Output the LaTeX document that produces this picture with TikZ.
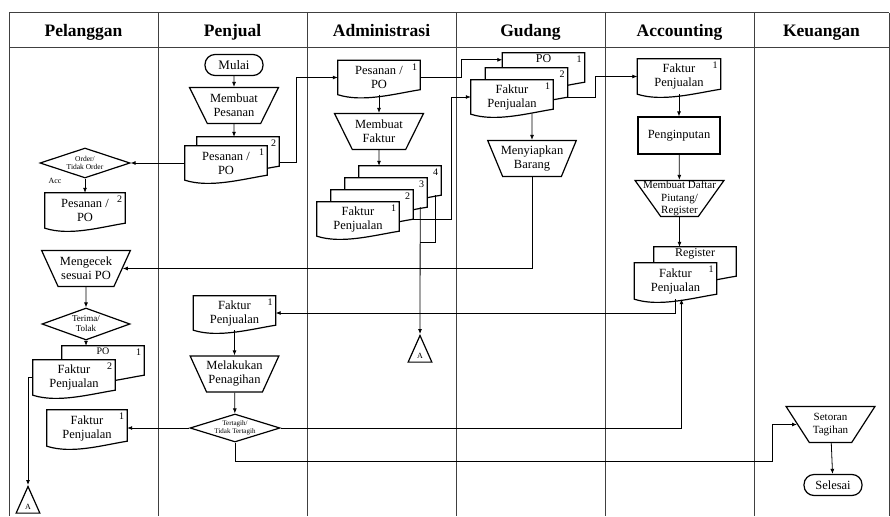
\documentclass[tikz,border=0pt]{standalone}
\usepackage{fontspec}
\setmainfont{Liberation Serif}
\usetikzlibrary{shapes.geometric,arrows.meta,backgrounds}

\begin{document}
\begin{tikzpicture}[x=1pt,y=-1pt,
    font=\fontsize{12.5}{14}\selectfont,
    lanehead/.style={anchor=base, font=\fontsize{17.5}{19}\selectfont\bfseries},
    lanerule/.style={line width=1pt, black!75},
    doc/.style={minimum width=82pt, minimum height=34pt, inner sep=1pt, align=center},
    docline/.style={fill=white, draw, line width=1.2pt},
    num/.style={anchor=north east, inner sep=3pt, font=\fontsize{10}{10}\selectfont},
    toptext/.style={anchor=north, inner sep=1.5pt, font=\fontsize{12}{12}\selectfont},
    proc/.style={trapezium, shape border rotate=180, trapezium left angle=65, trapezium right angle=65,
      trapezium stretches=true, minimum width=89pt, minimum height=36pt, inner xsep=-8pt, inner ysep=0pt,
      align=center, draw, line width=1.2pt},
    term/.style={draw, line width=1.2pt, rounded corners=10pt, minimum width=58pt, minimum height=21pt},
    decide/.style={diamond, aspect=3, draw, line width=1.2pt, minimum width=90pt, minimum height=30pt,
      inner sep=0pt, align=center},
    offpage/.style={isosceles triangle, shape border rotate=90, isosceles triangle apex angle=48,
      draw, line width=1.2pt, inner sep=3.5pt, font=\fontsize{8}{8}\selectfont},
    wire/.style={line width=0.8pt},
    arr/.style={wire, -{Latex[length=5pt,width=4pt]}}
    ]
    \useasboundingbox (0,0) rectangle (890,516);

    % lanes
    \draw[lanerule] (9,13) -- (889,13) (9,48) -- (889,48);
    \foreach \x in {9,158,307,456,605,754,889}
      \draw[lanerule] (\x,13) -- (\x,516);
    \foreach \nm/\cx in {Pelanggan/83.5,Penjual/232.5,Administrasi/381.5,Gudang/530.5,Accounting/679.5,Keuangan/821.5}
      \node[lanehead] (h\nm) at (\cx,37) {\nm};

    % Penjual
    \node[term, font=\fontsize{13}{14}\selectfont] (mulai) at (234,65) {Mulai};
    \node[proc] (pesan) at (234,105.5) {Membuat\\Pesanan};
    \node[doc, label={[num]north east:2}] (pesPOb) at (238,154) {};
    \node[doc, label={[num]north east:1}] (pesPO) at (226,163) {Pesanan /\\PO};
    \node[doc, label={[num]north east:1}] (pjFak) at (234.5,313) {Faktur\\Penjualan};
    \node[proc] (tagihan) at (234.5,374) {Melakukan\\Penagihan};
    \node[decide, minimum height=28pt, font=\fontsize{7}{7.5}\selectfont] (tertagih) at (235,428) {Tertagih/\\Tidak Tertagih};

    % Pelanggan
    \node[decide, font=\fontsize{7.5}{8}\selectfont] (order) at (85,163) {Order/\\Tidak Order};
    \node[font=\fontsize{8}{8}\selectfont] (acc) at (55,181) {Acc};
    \node[doc, minimum width=80pt, minimum height=35pt, label={[num]north east:2}] (pelPO) at (85,210.5) {Pesanan /\\PO};
    \node[proc] (cek) at (86,268.5) {Mengecek\\sesuai PO};
    \node[decide, minimum width=88pt, minimum height=32pt, font=\fontsize{9}{10}\selectfont] (terima) at (86,324) {Terima/\\Tolak};
    \node[doc, label={[toptext, font=\fontsize{10}{10}\selectfont]north:PO}, label={[num]north east:1}] (pelPOb) at (103,363) {};
    \node[doc, minimum height=35pt, label={[num]north east:2}] (pelFak) at (74,377.5) {Faktur\\Penjualan};
    \node[doc, minimum width=80pt, minimum height=36pt, label={[num]north east:1}] (pelFak1) at (87,428) {Faktur\\Penjualan};
    \node[offpage, anchor=apex] (pelA) at (28,485) {A};

    % Administrasi
    \node[doc, label={[num]north east:1}] (admPO) at (379,77.5) {Pesanan /\\PO};
    \node[proc] (faktur) at (379,131.5) {Membuat\\Faktur};
    \foreach \k/\dx in {4/0,3/1,2/2}
      \node[doc, label={[num]north east:\k}] (admF\k) at ({400-14*\dx},{183+12*\dx}) {};
    \node[doc, label={[num]north east:1}] (admF1) at (358,219) {Faktur\\Penjualan};
    \node[offpage, anchor=apex] (admA) at (420,334) {A};
    \coordinate (jA) at (420,242);

    % Gudang
    \node[doc, label={[toptext]north:PO}, label={[num]north east:1}] (gdPO) at (543.5,70) {};
    \node[doc, label={[num]north east:2}] (gdDok) at (526.5,85) {};
    \node[doc, label={[num]north east:1}] (gdFak) at (512,97) {Faktur\\Penjualan};
    \node[proc] (barang) at (532,158.5) {Menyiapkan\\Barang};

    % Accounting
    \node[doc, minimum width=83pt, minimum height=35pt, label={[num]north east:1}] (accFak) at (679,76.5) {Faktur\\Penjualan};
    \node[draw, line width=1.2pt, minimum width=82pt, minimum height=37pt] (input) at (679,135.5) {Penginputan};
    \node[proc, font=\fontsize{11}{12.5}\selectfont] (daftar) at (679.5,198.5) {\makebox[40pt]{Membuat Daftar}\\Piutang/\\Register};
    \node[doc, label={[toptext]north:Register}] (accReg) at (695,264) {};
    \node[doc, minimum height=36pt, label={[num]north east:1}] (accFak2) at (675.5,281) {Faktur\\Penjualan};

    % Keuangan
    \node[proc, font=\fontsize{11}{13}\selectfont] (setoran) at (830.5,424.5) {Setoran\\Tagihan};
    \node[term] (selesai) at (833,485) {Selesai};

    % document outlines, back sheets first
    \begin{scope}[on background layer]
    \foreach \d in {pesPOb,pesPO,pjFak,pelPO,pelPOb,pelFak,pelFak1,gdPO,gdDok,gdFak,admPO,admF4,admF3,admF2,admF1,accFak,accReg,accFak2}
      \draw[docline] (\d.north west) -- (\d.north east) -- ([yshift=5pt]\d.south east)
        .. controls +(-25pt,-4pt) and +(25pt,-8pt) .. (\d.south west) -- cycle;
    \end{scope}

    % flow
    \draw[arr] (mulai) -- (pesan);
    \draw[arr] (pesan) -- (pesan.south |- pesPOb.north);
    \draw[arr] ([yshift=-8pt]pesPOb.east) -- ++(17,0) |- (admPO.west);
    \draw[arr] (pesPO.west) -- (order.east);
    \draw[arr] (order) -- (pelPO);
    \draw[arr] (cek) -- (terima);
    \draw[arr] (terima) -- (terima.south |- pelPOb.north);
    \draw[arr] (pelFak.west) -| (pelA.apex);
    \draw[arr] (admPO) -- (faktur);
    \draw[arr] (admPO.east) -- ++(41,0) |- ([yshift=-7pt]gdPO.north west);
    \draw[arr] (faktur) -- (faktur.south |- admF4.north);
    \draw[arr] ([yshift=5pt]admF2.south east) -- ++(38,0) |- (gdFak.west);
    \draw[wire] ([xshift=-6pt,yshift=5pt]admF4.south east) |- (jA);
    \draw[arr] ([xshift=-7pt,yshift=5pt]admF3.south east) -- (admA.apex);
    \draw[arr] ([yshift=5pt]gdDok.south east) -- ++(28,0) |- (accFak.west);
    \draw[arr] (barang.north |- gdFak.south) -- (barang);
    \draw[arr] (barang) |- (cek);
    \draw[arr] (accFak) -- (input);
    \draw[arr] (input) -- (daftar);
    \draw[arr] (daftar) -- (daftar.south |- accReg.north);
    \draw[arr] (accFak2.south) |- (pjFak.east);
    \draw[arr] (tertagih.east) -| ([xshift=6pt]accFak2.south);
    \draw[arr] (pjFak) -- (tagihan);
    \draw[arr] (tagihan) -- (tertagih);
    \draw[arr] (tertagih) -- (pelFak1);
    \draw[arr] (tertagih.south) |- ++(537,19) |- (setoran.west);
    \draw[arr] (setoran) -- (selesai);
\end{tikzpicture}
\end{document}
